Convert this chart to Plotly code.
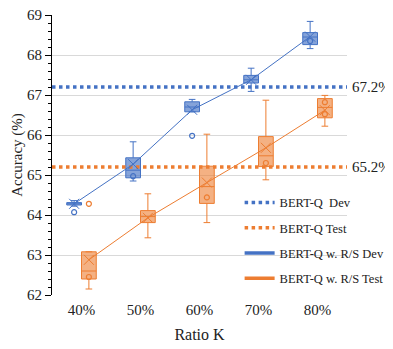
import numpy as np
import plotly.graph_objects as go

categories = ['40%', '50%', '60%', '70%', '80%']

# Dev (blue) box statistics
dev_q1 = [64.25, 64.93, 66.58, 67.30, 68.26]
dev_median = [64.28, 65.12, 66.70, 67.38, 68.45]
dev_q3 = [64.31, 65.43, 66.83, 67.49, 68.56]
dev_low = [64.22, 64.85, 66.58, 67.09, 68.16]
dev_high = [64.36, 65.83, 66.89, 67.67, 68.84]
dev_mean = [64.28, 65.27, 66.63, 67.38, 68.46]
dev_pts_cat = [0, 1, 2, 4]
dev_pts_val = [64.07, 64.97, 65.98, 68.35]

# Test (orange) box statistics
test_q1 = [62.40, 63.81, 64.29, 65.21, 66.43]
test_median = [62.60, 63.96, 64.71, 65.48, 66.69]
test_q3 = [63.08, 64.11, 65.22, 65.96, 66.91]
test_low = [62.15, 63.43, 63.81, 64.88, 66.22]
test_high = [63.08, 64.53, 66.02, 66.87, 66.99]
test_mean = [62.88, 63.93, 64.81, 65.68, 66.62]
test_pts_cat = [0, 0, 2, 3, 4, 4]
test_pts_val = [62.45, 64.28, 64.44, 65.30, 66.82, 66.52]

dev_ref = 67.2
test_ref = 65.2

blue = '#4472C4'
orange = '#ED7D31'
font = 'Liberation Serif'
txt = '#222'

idx = np.arange(len(categories))
off = 0.125
xd = idx - off
xt = idx + off

fig = go.Figure()

fig.add_trace(go.Scatter(x=[-0.5, 4.5], y=[dev_ref, dev_ref], mode='lines',
                         line=dict(color=blue, width=3.5, dash='dot'),
                         name='BERT-Q  Dev', legendgroup='a'))
fig.add_trace(go.Scatter(x=[-0.5, 4.5], y=[test_ref, test_ref], mode='lines',
                         line=dict(color=orange, width=3.5, dash='dot'),
                         name='BERT-Q Test', legendgroup='b'))

fig.add_trace(go.Box(x=xd, q1=dev_q1, median=dev_median, q3=dev_q3,
                     lowerfence=dev_low, upperfence=dev_high, width=0.25,
                     whiskerwidth=0.45, boxpoints=False,
                     fillcolor='rgba(68,114,196,0.65)',
                     line=dict(color=blue, width=1), showlegend=False))
fig.add_trace(go.Box(x=xt, q1=test_q1, median=test_median, q3=test_q3,
                     lowerfence=test_low, upperfence=test_high, width=0.25,
                     whiskerwidth=0.45, boxpoints=False,
                     fillcolor='rgba(237,125,49,0.6)',
                     line=dict(color=orange, width=1), showlegend=False))

fig.add_trace(go.Scatter(x=xd, y=dev_mean, mode='lines+markers',
                         line=dict(color=blue, width=1),
                         marker=dict(symbol='x-thin-open', size=10,
                                     line=dict(color='#2F528F', width=1)),
                         showlegend=False))
fig.add_trace(go.Scatter(x=xt, y=test_mean, mode='lines+markers',
                         line=dict(color=orange, width=1),
                         marker=dict(symbol='x-thin-open', size=10,
                                     line=dict(color='#C55A11', width=1)),
                         showlegend=False))

fig.add_trace(go.Scatter(x=[i - off for i in dev_pts_cat], y=dev_pts_val, mode='markers',
                         marker=dict(symbol='circle-open', size=5, color=blue,
                                     line=dict(width=1.2)),
                         showlegend=False))
fig.add_trace(go.Scatter(x=[i + off for i in test_pts_cat], y=test_pts_val, mode='markers',
                         marker=dict(symbol='circle-open', size=5, color=orange,
                                     line=dict(width=1.2)),
                         showlegend=False))

# legend-only entries for the box series
fig.add_trace(go.Scatter(x=[None], y=[None], mode='lines',
                         line=dict(color=blue, width=3.5),
                         name='BERT-Q w. R/S Dev', legendgroup='c'))
fig.add_trace(go.Scatter(x=[None], y=[None], mode='lines',
                         line=dict(color=orange, width=3.5),
                         name='BERT-Q w. R/S Test', legendgroup='d'))

fig.add_annotation(x=1.01, y=dev_ref, xref='paper', yref='y', text='67.2%',
                   showarrow=False, xanchor='left',
                   font=dict(family=font, size=15, color=txt))
fig.add_annotation(x=1.01, y=test_ref, xref='paper', yref='y', text='65.2%',
                   showarrow=False, xanchor='left',
                   font=dict(family=font, size=15, color=txt))

# the page puts the figure 8px in from the top-left corner
fig.update_layout(
    width=385, height=341,
    margin=dict(l=44, r=46, t=7, b=54, autoexpand=False),
    plot_bgcolor='white', paper_bgcolor='white',
    font=dict(family=font, size=15, color=txt),
    legend=dict(x=0.636, y=0.383, xanchor='left', yanchor='top',
                bgcolor='rgba(0,0,0,0)',
                font=dict(family=font, size=12.5, color=txt),
                tracegroupgap=6, itemwidth=30),
    xaxis=dict(range=[-0.5, 4.5], tickvals=idx, ticktext=categories,
               tickfont=dict(family=font, size=15, color=txt),
               showgrid=False, zeroline=False, showline=False,
               ticks='outside', ticklen=1, tickcolor='rgba(0,0,0,0)',
               title=dict(text='Ratio K', standoff=11,
                          font=dict(family=font, size=16, color=txt))),
    yaxis=dict(range=[62, 69], dtick=1, showgrid=True, gridcolor='#D9D9D9',
               tickfont=dict(family=font, size=15, color=txt),
               ticklabeloverflow='allow',
               gridwidth=1, zeroline=False, showline=True, linecolor='black',
               linewidth=1, ticks='outside', ticklen=6, tickcolor='black',
               minor=dict(dtick=0.2, ticks='outside', ticklen=3, tickcolor='black',
                          showgrid=False),
               title=dict(text='Accuracy (%)', standoff=0,
                          font=dict(family=font, size=15, color=txt))),
)

fig.write_html('out.html')
